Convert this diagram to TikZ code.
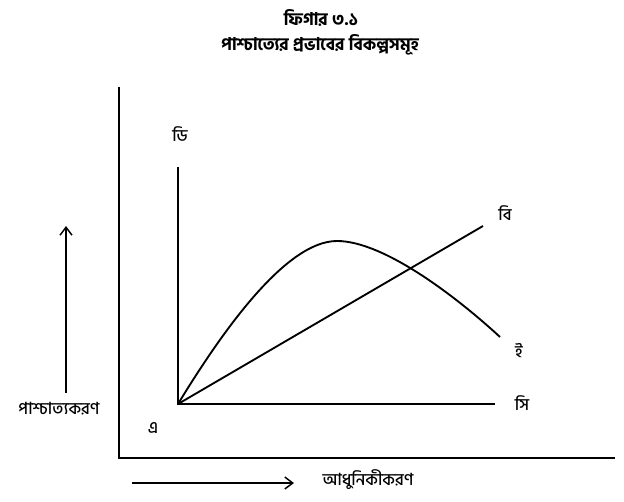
\documentclass[tikz,border=0pt]{standalone}
\usepackage{fontspec}
\newfontfamily\bn[Script=Bengali]{Hind Siliguri Medium}
\newfontfamily\bnb[Script=Bengali]{Hind Siliguri Bold}
\usetikzlibrary{arrows.meta}
\begin{document}
\begin{tikzpicture}[x=0.75pt,y=-0.75pt,
  ln/.style={line width=1.4pt,black},
  ax/.style={line width=1.3pt,black,-{Straight Barb[length=6pt,width=9pt,line width=1.1pt]}},
  lbl/.style={font=\bn\fontsize{12.5}{14}\selectfont,inner sep=0pt},
  ttl/.style={font=\bnb\fontsize{13}{15}\selectfont,inner sep=0pt}]
\useasboundingbox (0,0) rectangle (624,502);
% title
\node[ttl] (t1) at (321,18) {ফিগার ৩.১};
\node[ttl] (t2) at (320,45) {পাশ্চাত্যের প্রভাবের বিকল্পসমূহ};
% frame
\coordinate (ftop) at (119,87);
\coordinate (fcorner) at (119,458);
\coordinate (fright) at (615,458);
\draw[ln] (ftop) -- (fcorner) -- (fright);
% inner axes
\coordinate (O) at (178,404);
\coordinate (ytop) at (178,167);
\coordinate (xend) at (495,404);
\draw[ln] (ytop) -- (O) -- (xend);
% line B
\coordinate (Bend) at (483,226);
\draw[ln] (O) -- (Bend);
% curve E
\coordinate (peak) at (337,241);
\coordinate (Eend) at (500,337);
\draw[ln] (O) .. controls (220,335) and (285,241) .. (peak)
  .. controls (385,241) and (460,300) .. (Eend);
% labels
\node[lbl] (D) at (180,134) {ডি};
\node[lbl] (B) at (505,213) {বি};
\node[lbl] (E) at (519,351) {ই};
\node[lbl] (C) at (522,403) {সি};
\node[lbl] (A) at (153,428) {এ};
% outer arrows
\coordinate (v0) at (66,393);
\coordinate (v1) at (66,226);
\draw[ax] (v0) -- (v1);
\node[lbl] (wl) at (59,409) {পাশ্চাত্যকরণ};
\coordinate (h0) at (132,483);
\coordinate (h1) at (294,483);
\draw[ax] (h0) -- (h1);
\node[lbl] (ml) at (368,480) {আধুনিকীকরণ};
\end{tikzpicture}
\end{document}
